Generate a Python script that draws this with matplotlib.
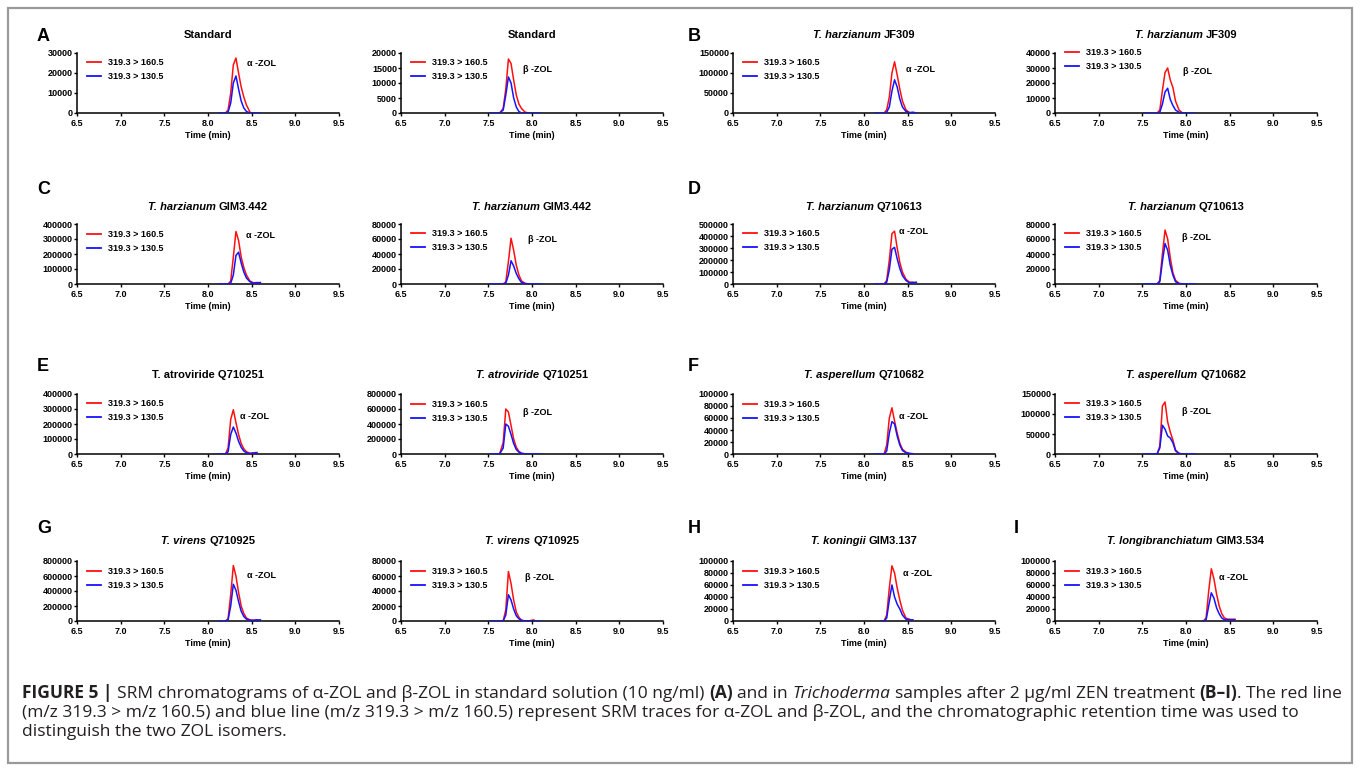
import matplotlib
matplotlib.use('Agg')
import matplotlib.pyplot as plt
from matplotlib.font_manager import FontProperties
from matplotlib.ticker import FuncFormatter
from matplotlib.lines import Line2D
from matplotlib.patches import Rectangle
import numpy as np

W, H = 1360, 770
FONT = 'Liberation Sans'
CAP_FONT = 'Open Sans'
N = None

# ---------------- data (intensities in thousands of counts) ----------------
t_alpha = [8.12, 8.16, 8.20, 8.23, 8.26, 8.29, 8.32, 8.35, 8.38, 8.41, 8.44, 8.48, 8.52, 8.56, 8.60]
t_beta = [7.52, 7.58, 7.63, 7.67, 7.70, 7.73, 7.76, 7.79, 7.82, 7.85, 7.88, 7.92, 7.96, 8.02, 8.10]

A1_red = [N, N, 0, 1.5, 10, 24, 27.5, 20, 13, 8, 4, 0.5, N, N, N]
A1_blue = [0, 0, 0, 0.5, 5, 15, 18.5, 12, 6, 2.5, 0.8, 0, 0, 0, 0]
A2_red = [N, N, 0, 1.5, 8, 18, 16.5, 11, 6, 3, 1.5, 0.3, 0, N, N]
A2_blue = [0, 0, 0, 1, 6, 12, 10, 5, 2, 0.5, 0, 0, 0, 0, 0]
B1_red = [N, N, N, 0, 8, 40, 100, 128, 95, 60, 30, 8, 1, N, N]
B1_blue = [0, 0, 0, 0, 2, 15, 55, 83, 65, 35, 15, 4, 1, 2, 0]
B2_red = [N, N, N, 0, 2, 15, 27, 30, 22, 17, 8, 2, 0, N, N]
B2_blue = [0, 0, 0, 0, 0.5, 6, 14, 16.5, 9, 5, 2, 0.5, 0, 0, 0]
C1_red = [N, N, N, 0, 20, 180, 350, 290, 180, 110, 60, 20, 8, 10, N]
C1_blue = [0, 0, 0, 0, 5, 60, 190, 212, 140, 80, 40, 15, 5, 8, 10]
C2_red = [N, N, N, 0, 3, 30, 61, 45, 25, 12, 4, 1, 0, N, N]
C2_blue = [0, 0, 0, 0, 1, 12, 31, 24, 14, 7, 2, 0.5, 0, 0, 0]
D1_red = [N, N, N, 0, 30, 200, 420, 440, 300, 180, 100, 40, 15, 15, N]
D1_blue = [0, 0, 0, 0, 15, 120, 290, 305, 210, 130, 70, 30, 10, 12, 15]
D2_red = [N, N, N, 0, 5, 40, 72, 60, 35, 15, 5, 1, 0, N, N]
D2_blue = [0, 0, 0, 0, 3, 30, 54, 45, 25, 12, 3, 0.5, 0, 0, 0]
E1_red = [N, N, 0, 40, 230, 295, 210, 130, 70, 35, 15, 5, 8, 10, N]
E1_blue = [0, 0, 0, 15, 130, 180, 140, 85, 45, 20, 8, 3, 5, 8, N]
E2_red = [N, N, 5, 150, 600, 560, 380, 200, 90, 35, 10, 2, 0, N, N]
E2_blue = [0, 0, 2, 80, 400, 370, 260, 140, 60, 25, 8, 2, 0, 0, 0]
F1_red = [N, N, N, 0, 15, 60, 77, 55, 35, 18, 8, 3, 1, N, N]
F1_blue = [0, 0, 0, 0, 5, 35, 54, 50, 30, 15, 6, 2, 1, 0.5, N]
F2_red = [N, N, N, 0, 20, 120, 130, 80, 55, 35, 10, 2, 0, N, N]
F2_blue = [0, 0, 0, 1, 15, 72, 62, 45, 40, 28, 8, 1, 0, 0, 0]
G1_red = [N, N, 0, 30, 350, 740, 600, 380, 200, 100, 40, 15, 10, 15, N]
G1_blue = [0, 0, 0, 15, 200, 490, 410, 260, 130, 60, 25, 10, 8, 15, 15]
G2_red = [N, N, N, 0, 15, 66, 50, 28, 12, 5, 1, 0, 0, 1.5, N]
G2_blue = [0, 0, 0, 0, 8, 35, 28, 16, 7, 3, 1, 0, 0, 0, 0]
H1_red = [N, N, N, 0, 10, 55, 92, 80, 55, 35, 18, 5, 3, N, N]
H1_blue = [N, N, 0, 0, 5, 35, 60, 40, 28, 20, 10, 3, 2, 2, N]
I1_red = [N, N, 0, 5, 50, 87, 70, 45, 25, 12, 5, 3, 3, 3, N]
I1_blue = [N, N, 0, 2, 25, 47, 38, 22, 12, 5, 2, 2, 2, 2, N]

legend_labels = ['319.3 > 160.5', '319.3 > 130.5']
x_ticks = [6.5, 7.0, 7.5, 8.0, 8.5, 9.0, 9.5]

# panel: (row, col, title pieces, isomer, red, blue, ymax, ystep)
BI = dict(fontweight='bold', fontstyle='italic')
B_ = dict(fontweight='bold')
panels = [
    (0, 0, [('Standard', B_)], 'a', A1_red, A1_blue, 30000, 10000),
    (0, 1, [('Standard', B_)], 'b', A2_red, A2_blue, 20000, 5000),
    (0, 2, [('T. harzianum', BI), (' JF309', B_)], 'a', B1_red, B1_blue, 150000, 50000),
    (0, 3, [('T. harzianum', BI), (' JF309', B_)], 'b', B2_red, B2_blue, 40000, 10000),
    (1, 0, [('T. harzianum', BI), (' GIM3.442', B_)], 'a', C1_red, C1_blue, 400000, 100000),
    (1, 1, [('T. harzianum', BI), (' GIM3.442', B_)], 'b', C2_red, C2_blue, 80000, 20000),
    (1, 2, [('T. harzianum', BI), (' Q710613', B_)], 'a', D1_red, D1_blue, 500000, 100000),
    (1, 3, [('T. harzianum', BI), (' Q710613', B_)], 'b', D2_red, D2_blue, 80000, 20000),
    (2, 0, [('T. atroviride Q710251', B_)], 'a', E1_red, E1_blue, 400000, 100000),
    (2, 1, [('T. atroviride', BI), (' Q710251', B_)], 'b', E2_red, E2_blue, 800000, 200000),
    (2, 2, [('T. asperellum', BI), (' Q710682', B_)], 'a', F1_red, F1_blue, 100000, 20000),
    (2, 3, [('T. asperellum', BI), (' Q710682', B_)], 'b', F2_red, F2_blue, 150000, 50000),
    (3, 0, [('T. virens', BI), (' Q710925', B_)], 'a', G1_red, G1_blue, 800000, 200000),
    (3, 1, [('T. virens', BI), (' Q710925', B_)], 'b', G2_red, G2_blue, 80000, 20000),
    (3, 2, [('T. koningii', BI), (' GIM3.137', B_)], 'a', H1_red, H1_blue, 100000, 20000),
    (3, 3, [('T. longibranchiatum', BI), (' GIM3.534', B_)], 'a', I1_red, I1_blue, 100000, 20000),
]
# annotation positions (x in minutes, px below the axes top) and legend offsets
ann_pos = [(8.45, 10), (7.90, 17), (8.48, 16), (7.97, 18),
           (8.43, 12), (7.95, 15), (8.40, 8), (7.95, 14),
           (8.37, 23), (7.90, 19), (8.40, 23), (7.95, 18),
           (8.45, 14), (7.92, 16), (8.45, 13), (8.38, 17)]
leg_off = [10, 10, 10, 0, 11, 10, 10, 10, 10, 11, 11, 10, 11, 11, 11, 11]

panel_letters = [('A', 37, 35), ('B', 688, 35), ('C', 37, 188), ('D', 688, 188),
                 ('E', 37, 365), ('F', 688, 365), ('G', 37, 527), ('H', 688, 527),
                 ('I', 1014, 527)]

# ---------------- layout ----------------
col_x = [77, 401, 733, 1055]
ax_w = 262
row_top = [53, 224, 394, 561]
row_title = [34, 207, 375, 541]
ax_h = 60

RED = '#ff1010'
BLUE = '#1414ff'

fig = plt.figure(figsize=(W / 100, H / 100), dpi=100)
renderer = fig.canvas.get_renderer()

def space_width(size, family, **st):
    t1 = fig.text(0, 0, 'x x', fontsize=size, family=family, **st)
    t2 = fig.text(0, 0, 'xx', fontsize=size, family=family, **st)
    w = t1.get_window_extent(renderer).width - t2.get_window_extent(renderer).width
    t1.remove(); t2.remove()
    return w

def rich_text(x_px, y_base_px, pieces, size, ha='left', measure_only=False,
              family=FONT, color='black'):
    items = []
    total = 0.0
    for s, st in pieces:
        sp = space_width(size, family, **st)
        lead = len(s) - len(s.lstrip(' '))
        trail = len(s) - len(s.rstrip(' '))
        core = s.strip(' ')
        t = fig.text(0, 0, core, fontsize=size, family=family, color=color,
                     va='baseline', ha='left', **st)
        w = t.get_window_extent(renderer).width
        items.append((t, lead * sp, w, trail * sp))
        total += lead * sp + w + trail * sp
    if measure_only:
        for t, *_ in items:
            t.remove()
        return total
    x = x_px - (total / 2 if ha == 'center' else 0)
    for t, l, w, tr in items:
        x += l
        t.set_position((x / W, 1 - y_base_px / H))
        x += w + tr
    return total

tick_fp = FontProperties(family=FONT, weight='bold', size=6.5)

for i, (r, c, title, iso, red, blue, ymax, ystep) in enumerate(panels):
    x0 = col_x[c]
    y0 = row_top[r]
    ax = fig.add_axes([x0 / W, 1 - (y0 + ax_h) / H, ax_w / W, ax_h / H])
    t = t_alpha if iso == 'a' else t_beta
    blue_arr = np.array(blue, dtype=float) * 1000
    red_arr = np.array(red, dtype=float) * 1000
    ax.plot(t, blue_arr, color=BLUE, lw=1.1, zorder=3)
    ax.plot(t, red_arr, color=RED, lw=1.1, zorder=2)
    ax.set_xlim(6.5, 9.5)
    ax.set_ylim(0, ymax)
    ax.set_xticks(x_ticks)
    ax.set_yticks(np.arange(0, ymax + ystep / 2, ystep))
    ax.xaxis.set_major_formatter(FuncFormatter(lambda v, p: f'{v:.1f}'))
    ax.yaxis.set_major_formatter(FuncFormatter(lambda v, p: f'{int(round(v))}'))
    for s in ['top', 'right']:
        ax.spines[s].set_visible(False)
    for s in ['left', 'bottom']:
        ax.spines[s].set_linewidth(1.1)
    ax.tick_params(axis='both', direction='out', length=2.3, width=1.0, labelsize=6.5)
    ax.tick_params(axis='x', pad=2.0)
    ax.tick_params(axis='y', pad=0.6)
    for lab in ax.get_xticklabels() + ax.get_yticklabels():
        lab.set_fontproperties(tick_fp)
    ax.set_xlabel('Time (min)', fontproperties=tick_fp, labelpad=2.5)
    ax.patch.set_alpha(0)

    # legend
    handles = [Line2D([], [], color=RED, lw=1.3), Line2D([], [], color=BLUE, lw=1.3)]
    off = leg_off[i]
    ax.legend(handles, legend_labels, loc='upper left',
              bbox_to_anchor=(10 / ax_w, 1 - (off - 5) / ax_h),
              frameon=False, prop=tick_fp, handlelength=1.55, handletextpad=0.8,
              labelspacing=0.55, borderpad=0, borderaxespad=0)

    # isomer label
    ax_, dy = ann_pos[i]
    lbl = '\u03b1 -ZOL' if iso == 'a' else '\u03b2 -ZOL'
    ax.text(ax_, 1 - dy / ax_h, lbl, transform=ax.get_xaxis_transform(),
            fontproperties=tick_fp, va='center', ha='left')

    # title
    rich_text(x0 + ax_w / 2, row_title[r] + 3.5, title, 8.0, ha='center')

for letter, lx, ly in panel_letters:
    fig.text(lx / W, 1 - (ly + 6) / H, letter, fontsize=13, fontweight='bold',
             family=FONT, va='baseline', ha='left')

# caption
line1 = [('FIGURE 5 |', dict(fontweight='bold')),
         (' SRM chromatograms of \u03b1-ZOL and \u03b2-ZOL in standard solution (10 ng/ml) ', {}),
         ('(A)', dict(fontweight='bold')),
         (' and in ', {}),
         ('Trichoderma', dict(fontstyle='italic')),
         (' samples after 2 \u03bcg/ml ZEN treatment ', {}),
         ('(B\u2013I)', dict(fontweight='bold')),
         ('. The red line', {})]
line2 = [('(m/z 319.3 > m/z 160.5) and blue line (m/z 319.3 > m/z 160.5) represent SRM traces '
          'for \u03b1-ZOL and \u03b2-ZOL, and the chromatographic retention time was used to', {})]
line3 = [('distinguish the two ZOL isomers.', {})]

CAP_COLOR = '#231f20'
trial = 10.0
w_trial = rich_text(22, 698, line1, trial, measure_only=True, family=CAP_FONT)
cap_size = trial * (1318 / w_trial)
rich_text(22, 698, line1, cap_size, family=CAP_FONT, color=CAP_COLOR)
rich_text(22, 717, line2, cap_size, family=CAP_FONT, color=CAP_COLOR)
rich_text(22, 736, line3, cap_size, family=CAP_FONT, color=CAP_COLOR)

# frame around the whole figure
fig.patches.append(Rectangle((8 / W, 1 - 763 / H), (1352 - 8) / W, (763 - 8) / H,
                             transform=fig.transFigure, fill=False,
                             edgecolor='#9a9a9a', lw=1.6))

fig.savefig('out.png', dpi=100)
